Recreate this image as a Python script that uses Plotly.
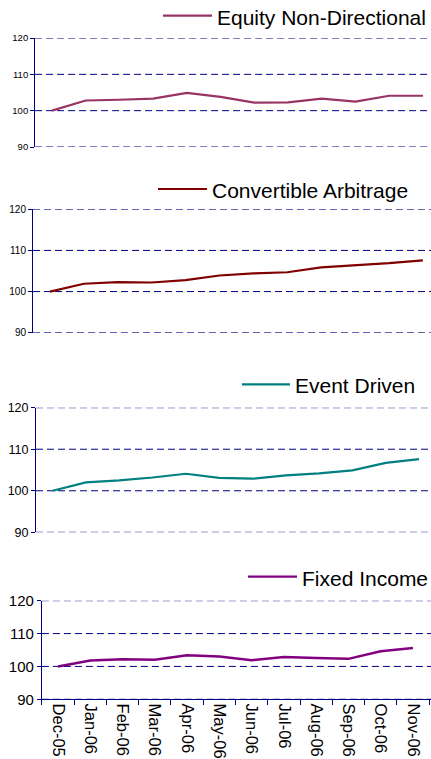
import plotly.graph_objects as go

months = ["Dec-05", "Jan-06", "Feb-06", "Mar-06", "Apr-06", "May-06",
          "Jun-06", "Jul-06", "Aug-06", "Sep-06", "Oct-06", "Nov-06"]

equity_non_directional = [100.0, 102.8, 103.0, 103.3, 104.9, 103.8, 102.2, 102.3, 103.3, 102.5, 104.1, 104.1]
convertible_arbitrage = [100.0, 101.9, 102.3, 102.2, 102.8, 103.9, 104.4, 104.7, 105.9, 106.4, 106.9, 107.6]
event_driven = [100.0, 102.0, 102.5, 103.2, 104.1, 103.1, 102.9, 103.7, 104.2, 104.9, 106.7, 107.6]
fixed_income = [100.0, 101.8, 102.2, 102.0, 103.4, 103.0, 101.9, 102.9, 102.6, 102.3, 104.6, 105.6]

series_names = ["Equity Non-Directional", "Convertible Arbitrage", "Event Driven", "Fixed Income"]
series_values = [equity_non_directional, convertible_arbitrage, event_driven, fixed_income]
series_colors = ["#993366", "#800000", "#008080", "#800080"]

y_ticks = [90, 100, 110, 120]

W, H = 431, 759
FONT = "Arial, 'Liberation Sans', sans-serif"
NAVY = "#000080"

# panel geometry in pixels
panels = [
    dict(xl=35.1, xr=431, yt=38, yb=147, xmax=11.24, tf=9.5, lx0=163, lx1=212, ly=15.7, tx=215),
    dict(xl=33.0, xr=431, yt=209.3, yb=332.7, xmax=11.24, tf=10, lx0=158, lx1=207, ly=189, tx=210),
    dict(xl=36.0, xr=431, yt=407.7, yb=532.3, xmax=11.36, tf=12.5, lx0=242, lx1=290, ly=384.3, tx=293),
    dict(xl=41.9, xr=431, yt=600.7, yb=699.3, xmax=11.56, tf=15, lx0=248, lx1=297, ly=576.7, tx=300),
]

fig = go.Figure()
shapes = []
annotations = []
layout = dict(
    width=W, height=H, autosize=False,
    margin=dict(l=0, r=0, t=0, b=0),
    paper_bgcolor="white", plot_bgcolor="white",
    showlegend=False,
    font=dict(family=FONT, color="#000000"),
)

for i, (name, vals, color, p) in enumerate(zip(series_names, series_values, series_colors, panels)):
    n = "" if i == 0 else str(i + 1)
    fig.add_trace(go.Scatter(
        x=months, y=vals, mode="lines", name=name,
        line=dict(color=color, width=2.2 if i < 3 else 2.5),
        xaxis="x" + n, yaxis="y" + n, hoverinfo="skip",
    ))
    last = (i == 3)
    layout["xaxis" + n] = dict(
        domain=[p["xl"] / W, p["xr"] / W],
        anchor="y" + n,
        type="category",
        categoryorder="array", categoryarray=months,
        range=[-0.5, p["xmax"]],
        showgrid=False, zeroline=False,
        showline=last, linecolor=NAVY, linewidth=1,
        ticks="outside" if last else "", tickson="boundaries",
        ticklen=5, tickcolor=NAVY, tickwidth=1,
        showticklabels=last, tickangle=90,
        tickfont=dict(family=FONT, size=16.5, color="#000000"),
        fixedrange=True, automargin=False,
    )
    layout["yaxis" + n] = dict(
        domain=[1 - p["yb"] / H, 1 - p["yt"] / H],
        anchor="x" + n,
        range=[90, 120],
        tickvals=y_ticks,
        showgrid=False,
        zeroline=False,
        showline=True, linecolor=NAVY, linewidth=1,
        ticks="outside", ticklen=4, tickcolor=NAVY, tickwidth=1,
        tickfont=dict(family=FONT, size=p["tf"], color="#000000"),
        fixedrange=True, automargin=False,
    )
    # dashed horizontal gridlines at tick values
    for v in y_ticks:
        shapes.append(dict(
            type="line", xref="x" + n + " domain", yref="y" + n,
            x0=0, x1=1, y0=v, y1=v, layer="below",
            line=dict(color=NAVY, width=1, dash="7px,4px"),
        ))
    # legend sample line + label
    shapes.append(dict(
        type="line", xref="paper", yref="paper",
        x0=p["lx0"] / W, x1=p["lx1"] / W, y0=1 - p["ly"] / H, y1=1 - p["ly"] / H,
        line=dict(color=color, width=2.2),
    ))
    annotations.append(dict(
        text=name, xref="paper", yref="paper",
        x=p["tx"] / W, y=1 - (p["ly"] + 1.5) / H,
        xanchor="left", yanchor="middle", showarrow=False,
        font=dict(family=FONT, size=21, color="#000000"),
    ))

layout["shapes"] = shapes
layout["annotations"] = annotations
fig.update_layout(**layout)
fig.write_html("out.html", config={"displayModeBar": False, "staticPlot": True},
               post_script="document.body.style.margin='0';")
